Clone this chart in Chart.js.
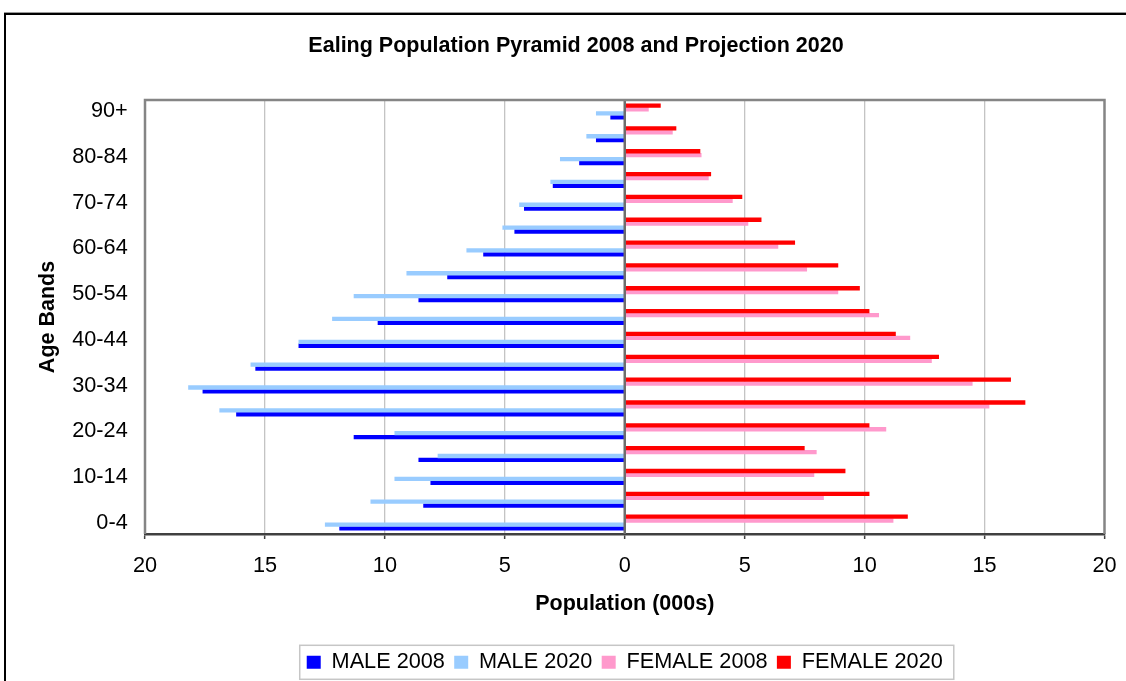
<!DOCTYPE html>
<html>
<head>
<meta charset="utf-8">
<script src="https://cdn.jsdelivr.net/npm/chart.js@4.4.1/dist/chart.umd.min.js"></script>
<style>
  html, body { margin: 0; padding: 0; background: #fff; overflow: hidden; width: 1126px; height: 681px; }
  #wrap { position: relative; width: 1126px; height: 681px; overflow: hidden; }
  canvas { position: absolute; left: 0; top: 0; }
  #frame { position: absolute; left: 4px; top: 12px; width: 1300px; height: 900px; border-top: 1px solid #9a9a9a; pointer-events: none; }
  #frame::before { content: ''; position: absolute; left: 0; top: 0; right: 0; bottom: 0; border-top: 2px solid #000; border-left: 2px solid #000; }
</style>
</head>
<body>
<div id="wrap">
  <canvas id="pyramid" width="1126" height="690"></canvas>
  <div id="frame"></div>
</div>
<script>
// Age bands, youngest first (drawn bottom to top)
const ageBands = ['0-4', '5-9', '10-14', '15-19', '20-24', '25-29', '30-34', '35-39', '40-44',
  '45-49', '50-54', '55-59', '60-64', '65-69', '70-74', '75-79', '80-84', '85-89', '90+'];

// Population in thousands
const male2008   = [11.9, 8.4, 8.1, 8.6, 11.3, 16.2, 17.6, 15.4, 13.6, 10.3, 8.6, 7.4, 5.9, 4.6, 4.2, 3.0, 1.9, 1.2, 0.6];
const male2020   = [12.5, 10.6, 9.6, 7.8, 9.6, 16.9, 18.2, 15.6, 13.6, 12.2, 11.3, 9.1, 6.6, 5.1, 4.4, 3.1, 2.7, 1.6, 1.2];
const female2008 = [11.2, 8.3, 7.9, 8.0, 10.9, 15.2, 14.5, 12.8, 11.9, 10.6, 8.9, 7.6, 6.4, 5.15, 4.5, 3.5, 3.2, 2.0, 1.0];
const female2020 = [11.8, 10.2, 9.2, 7.5, 10.2, 16.7, 16.1, 13.1, 11.3, 10.2, 9.8, 8.9, 7.1, 5.7, 4.9, 3.6, 3.15, 2.15, 1.5];

const seriesNames = ['MALE 2008', 'MALE 2020', 'FEMALE 2008', 'FEMALE 2020'];
const seriesColors = ['#0000FF', '#99CCFF', '#FF99CC', '#FF0000'];
const xTickValues = [-20, -15, -10, -5, 0, 5, 10, 15, 20];

const chartTitle = 'Ealing Population Pyramid 2008 and Projection 2020';
const FONT = '"Liberation Sans", Arial, Helvetica, sans-serif';

Chart.defaults.font.family = FONT;
Chart.defaults.color = '#000';

// Plot frame, zero line, chart title and legend outline
const decorations = {
  id: 'decorations',
  afterDatasetsDraw(chart) {
    const { ctx, chartArea: { left, right, top, bottom } } = chart;
    const x0 = chart.scales.x.getPixelForValue(0);
    ctx.save();
    ctx.strokeStyle = '#6e6e6e';
    ctx.lineWidth = 2.5;
    ctx.beginPath();
    ctx.moveTo(x0, top);
    ctx.lineTo(x0, bottom);
    ctx.stroke();
    ctx.strokeStyle = '#858585';
    ctx.lineWidth = 2.5;
    ctx.beginPath();
    ctx.moveTo(left, bottom);
    ctx.lineTo(left, top);
    ctx.lineTo(right, top);
    ctx.lineTo(right, bottom);
    ctx.stroke();
    ctx.restore();
  },
  afterDraw(chart) {
    const ctx = chart.ctx;
    ctx.save();
    ctx.font = 'bold 21.5px ' + FONT;
    ctx.fillStyle = '#000';
    ctx.textAlign = 'center';
    ctx.textBaseline = 'middle';
    ctx.fillText(chartTitle, 576, 46);

    const boxes = chart.legend.legendHitBoxes;
    if (boxes && boxes.length) {
      const first = boxes[0], last = boxes[boxes.length - 1];
      const cy = first.top + first.height / 2;
      const l = first.left - 7, r = last.left + last.width + 11;
      ctx.strokeStyle = '#c6c6c6';
      ctx.lineWidth = 1.5;
      ctx.strokeRect(l, cy - 17, r - l, 34);
    }
    ctx.restore();
  }
};

const values = [male2008.map(v => -v), male2020.map(v => -v), female2008, female2020];
// order puts FEMALE 2020 in the top slot of each band, MALE 2008 in the bottom one
const slotOrder = [3, 2, 1, 0];

new Chart(document.getElementById('pyramid'), {
  type: 'bar',
  data: {
    labels: ageBands,
    datasets: seriesNames.map((name, i) => ({
      label: name,
      data: values[i],
      backgroundColor: seriesColors[i],
      borderWidth: 0,
      order: slotOrder[i]
    }))
  },
  options: {
    indexAxis: 'y',
    responsive: false,
    animation: false,
    devicePixelRatio: 1,
    layout: { padding: { top: 100, left: 0, right: 21.5, bottom: 6.85 } },
    datasets: { bar: { categoryPercentage: 0.687, barPercentage: 1.1 } },
    scales: {
      x: {
        min: -20, max: 20,
        afterBuildTicks(scale) { scale.ticks = xTickValues.map(v => ({ value: v })); },
        ticks: {
          callback: v => Math.abs(v),
          color: '#000',
          font: { size: 21.7 },
          padding: 14,
          maxRotation: 0
        },
        grid: {
          color: c => (c.tick && Math.abs(c.tick.value) === 20) ? 'rgba(0,0,0,0)' : '#c4c4c4',
          lineWidth: 1.3,
          tickColor: '#404040',
          tickLength: 5,
          tickWidth: 1.5
        },
        border: { color: '#404040', width: 2.5 },
        title: {
          display: true,
          text: 'Population (000s)',
          color: '#000',
          font: { size: 21.5, weight: 'bold' },
          padding: { top: 0, bottom: 25.5 }
        },
        afterFit(scale) {
          scale.height = 108.15;
          scale.paddingLeft = 0;
          scale.paddingRight = 0;
        }
      },
      y: {
        reverse: true,
        grid: { display: false, drawTicks: false },
        border: { display: false },
        ticks: {
          autoSkip: false,
          padding: 17.3,
          color: '#000',
          font: { size: 21.7 },
          callback(v, i) { return i % 2 === 0 ? this.getLabelForValue(v) : ''; }
        },
        title: {
          display: true,
          text: 'Age Bands',
          color: '#000',
          font: { size: 21.5, weight: 'bold' },
          padding: { top: 34.9, bottom: 0 }
        },
        afterFit(scale) { scale.width = 145; }
      }
    },
    plugins: {
      legend: {
        position: 'bottom',
        fullSize: false,
        labels: {
          boxWidth: 14,
          boxHeight: 13,
          padding: 9.3,
          color: '#000',
          font: { size: 21.7 },
          sort: (a, b) => a.datasetIndex - b.datasetIndex
        }
      },
      title: { display: false },
      tooltip: { enabled: false }
    }
  },
  plugins: [decorations]
});
</script>
</body>
</html>
